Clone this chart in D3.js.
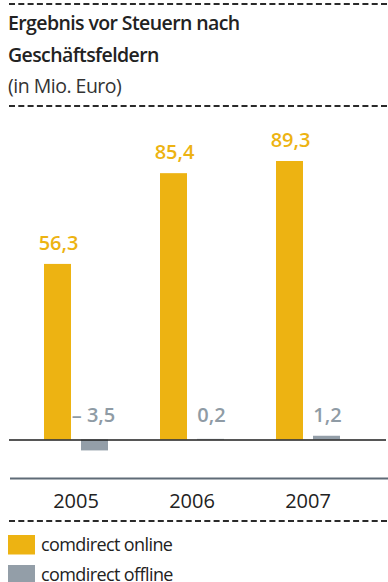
<!DOCTYPE html>
<html>
<head>
<meta charset="utf-8">
<script src="https://cdn.jsdelivr.net/npm/d3@7"></script>
<style>
  html, body { margin: 0; padding: 0; background: #fff; }
  svg { display: block; font-family: "Open Sans", "Noto Sans", sans-serif; }
</style>
</head>
<body>
<svg id="chart" width="388" height="582"></svg>
<script>
// Ergebnis vor Steuern nach Geschäftsfeldern, in Mio. Euro
const years = ["2005", "2006", "2007"];
const series = ["comdirect online", "comdirect offline"];
const online = [56.3, 85.4, 89.3];
const offline = [-3.5, 0.2, 1.2];
const onlineLabels = ["56,3", "85,4", "89,3"];
const offlineLabels = ["\u2013 3,5", "0,2", "1,2"];

const colors = { "comdirect online": "#edb312", "comdirect offline": "#939ea8" };
const labelColors = { "comdirect online": "#edb312", "comdirect offline": "#8f9ba5" };

const svg = d3.select("#chart");
const W = 388;

// header
const dash = "6,3.3";
svg.append("line").attr("x1", 9).attr("x2", W).attr("y1", 4).attr("y2", 4)
  .attr("stroke", "#2a2a2a").attr("stroke-width", 2).attr("stroke-dasharray", dash);
svg.append("text").attr("x", 8).attr("y", 29.5).attr("font-size", 19.5).attr("font-weight", 600)
  .attr("letter-spacing", -0.6).attr("fill", "#222").text("Ergebnis vor Steuern nach");
svg.append("text").attr("x", 8).attr("y", 62).attr("font-size", 19.5).attr("font-weight", 600)
  .attr("letter-spacing", -0.6).attr("fill", "#222").text("Geschäftsfeldern");
svg.append("text").attr("x", 8).attr("y", 92.5).attr("font-size", 19.5).attr("font-weight", 400)
  .attr("letter-spacing", -0.5).attr("fill", "#333").text("(in Mio. Euro)");
svg.append("line").attr("x1", 9).attr("x2", W).attr("y1", 106).attr("y2", 106)
  .attr("stroke", "#2a2a2a").attr("stroke-width", 2).attr("stroke-dasharray", dash);

// scales
const x0 = d3.scaleBand().domain(years).range([18, 366]).padding(0);
const groupW = 64;
const x1 = d3.scaleBand().domain(series).range([0, groupW]).paddingInner(0.2703);
const y = d3.scaleLinear().domain([0, 89.3]).range([439.5, 161]);

const rows = years.map((yr, i) => ({
  year: yr,
  items: [
    { s: series[0], v: online[i], label: onlineLabels[i] },
    { s: series[1], v: offline[i], label: offlineLabels[i] }
  ]
}));

const g = svg.append("g");
const groups = g.selectAll("g.year").data(rows).join("g")
  .attr("class", "year")
  .attr("transform", d => `translate(${x0(d.year) + (x0.bandwidth() - groupW) / 2},0)`);

groups.selectAll("rect").data(d => d.items).join("rect")
  .attr("x", d => x1(d.s))
  .attr("width", x1.bandwidth())
  .attr("y", d => y(Math.max(0, d.v)))
  .attr("height", d => Math.abs(y(d.v) - y(0)))
  .attr("fill", d => colors[d.s]);

// value labels: online above the bar, offline on a common line above the baseline
groups.selectAll("text.val").data(d => d.items).join("text")
  .attr("class", "val")
  .attr("x", d => x1(d.s) + x1.bandwidth() / 2 + (d.v < 0 ? -1 : 1))
  .attr("y", d => d.s === series[0] ? y(d.v) - 14 : 422)
  .attr("text-anchor", "middle")
  .attr("font-size", 20)
  .attr("font-weight", 600)
  .attr("fill", d => labelColors[d.s])
  .text(d => d.label);

// zero line
svg.append("line").attr("x1", 9).attr("x2", 386).attr("y1", y(0) + 0.5).attr("y2", y(0) + 0.5)
  .attr("stroke", "#1e1e1e").attr("stroke-width", 1.5);

// category axis
const axisG = svg.append("g").attr("transform", "translate(0,478.5)");
axisG.call(d3.axisBottom(x0).tickSize(0).tickPadding(15));
axisG.select(".domain").attr("d", "M10,0H388").attr("stroke", "#5f6b77").attr("stroke-width", 2);
axisG.selectAll(".tick text").attr("font-size", 20).attr("fill", "#222")
  .attr("font-family", "'Open Sans', 'Noto Sans', sans-serif").attr("dy", "0.71em");

// legend
svg.append("line").attr("x1", 9).attr("x2", W).attr("y1", 521).attr("y2", 521)
  .attr("stroke", "#2a2a2a").attr("stroke-width", 2).attr("stroke-dasharray", dash);
const lg = svg.selectAll("g.legend").data(series).join("g")
  .attr("class", "legend")
  .attr("transform", (d, i) => `translate(8,${535 + i * 30})`);
lg.append("rect").attr("width", 27).attr("height", 19.5).attr("fill", d => colors[d]);
lg.append("text").attr("x", 33).attr("y", 16).attr("font-size", 18).attr("letter-spacing", -0.6)
  .attr("fill", "#222").text(d => d);
</script>
</body>
</html>
